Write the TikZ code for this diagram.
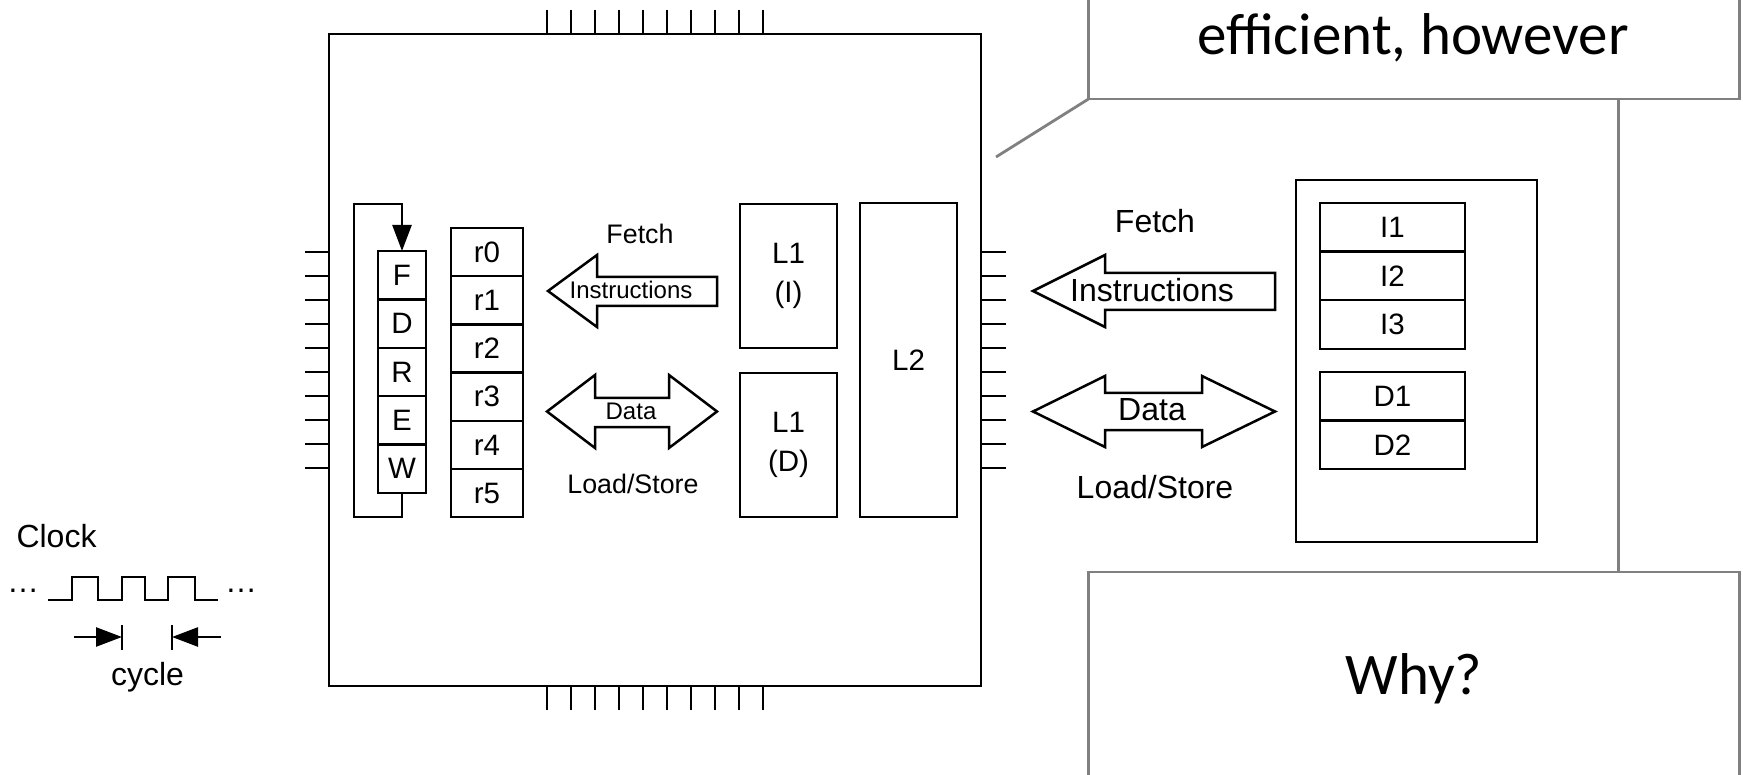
\documentclass[tikz,border=0pt]{standalone}
\usepackage{fontspec}
\setmainfont{Liberation Sans}
\newfontfamily\slidefont{Carlito}
\usetikzlibrary{arrows.meta,positioning}
\definecolor{slidegray}{RGB}{128,128,128}

\tikzset{
  box/.style={draw,line width=2.5pt,inner sep=0pt,outer sep=0pt,font=\fontsize{29.5}{39}\selectfont},
  stage/.style={box,minimum width=48pt,minimum height=48.4pt},
  reg/.style={box,minimum width=72pt,minimum height=48.2pt},
  word/.style={box,minimum width=145pt,minimum height=48.6pt},
  pin/.style={line width=2.2pt},
  bigarrow/.style={draw,line width=2.5pt,line join=miter},
  lbl/.style={font=\fontsize{26.8}{28}\selectfont},
  arrowtext/.style={font=\fontsize{24}{26}\selectfont},
  rlbl/.style={font=\fontsize{32}{34}\selectfont},
  clk/.style={font=\fontsize{32}{34}\selectfont},
  flowarrow/.style={line width=2.5pt,-{Triangle[length=26pt,width=19pt]}},
  callout/.style={draw=slidegray,line width=2.8pt,inner sep=0pt,outer sep=0pt},
  callline/.style={draw=slidegray,line width=2.8pt},
  slidetext/.style={font=\slidefont\fontsize{59}{60}\selectfont}
}

\begin{document}
\begin{tikzpicture}[x=1pt,y=-1pt]
\clip (0,0) rectangle (1743,775);

% chip with its pins
\foreach \i in {0,...,9} {
  \draw[pin] (547+24*\i,10) -- (547+24*\i,34);
  \draw[pin] (547+24*\i,686) -- (547+24*\i,710);
  \draw[pin] (305,252+24*\i) -- (329,252+24*\i);
  \draw[pin] (981,252+24*\i) -- (1006,252+24*\i);
}
\node[box,minimum width=652pt,minimum height=652pt,anchor=north west] (chip) at (329,34) {};

% pipeline stages
\node[stage,anchor=north west] (F) at (378,251) {F};
\node[stage,below=0pt of F] (D) {D};
\node[stage,below=0pt of D] (R) {R};
\node[stage,below=0pt of R] (E) {E};
\node[stage,below=0pt of E] (W) {W};
\draw[flowarrow] (W.south) -- ++(0,24) -| ++(-48,-313) -| (F.north);

% registers
\node[reg,anchor=north west] (r0) at (451,228) {r0};
\node[reg,below=0pt of r0] (r1) {r1};
\node[reg,below=0pt of r1] (r2) {r2};
\node[reg,below=0pt of r2] (r3) {r3};
\node[reg,below=0pt of r3] (r4) {r4};
\node[reg,below=0pt of r4] (r5) {r5};

% caches
\node[box,minimum width=97pt,minimum height=144pt,anchor=north west,align=center] (l1i) at (740,204) {L1\\(I)};
\node[box,minimum width=97pt,minimum height=144pt,anchor=north west,align=center] (l1d) at (740,373) {L1\\(D)};
\node[box,minimum width=97pt,minimum height=314pt,anchor=north west] (l2) at (860,203) {L2};

% memory
\node[box,minimum width=241pt,minimum height=362pt,anchor=north west] (mem) at (1296,180) {};
\node[word,anchor=north west] (i1) at (1320,203) {I1};
\node[word,below=0pt of i1] (i2) {I2};
\node[word,below=0pt of i2] (i3) {I3};
\node[word,minimum height=48.5pt,anchor=north west] (d1) at (1320,372) {D1};
\node[word,minimum height=48.5pt,below=0pt of d1] (d2) {D2};

% traffic inside the chip
\draw[bigarrow] (548,291) -- (597,255) -- (597,277) -- (717,277) -- (717,306) -- (597,306) -- (597,327) -- cycle;
\draw[bigarrow] (547,411.5) -- (595,375) -- (595,398) -- (669,398) -- (669,375) -- (717,411.5) -- (669,448) -- (669,427) -- (595,427) -- (595,448) -- cycle;
\node[lbl] (fetchin) at (640,234) {Fetch};
\node[arrowtext] (instrin) at (631,290) {Instructions};
\node[arrowtext] (datain) at (631,411) {Data};
\node[lbl] (lsin) at (633,484) {Load/Store};

% traffic to memory
\draw[bigarrow] (1033,291) -- (1105,255) -- (1105,273) -- (1275,273) -- (1275,310) -- (1105,310) -- (1105,327) -- cycle;
\draw[bigarrow] (1033,411.5) -- (1105,376) -- (1105,393) -- (1202,393) -- (1202,376) -- (1275,411.5) -- (1202,447) -- (1202,430) -- (1105,430) -- (1105,447) -- cycle;
\node[rlbl] (fetchout) at (1155,221) {Fetch};
\node[rlbl] (instrout) at (1152,290) {Instructions};
\node[rlbl] (dataout) at (1152,410) {Data};
\node[rlbl] (lsout) at (1155,487) {Load/Store};

% clock
\node[clk,anchor=base west] (clock) at (13,547) {Clock};
\node[clk,anchor=base] (dotsl) at (23,592) {\textellipsis};
\node[clk,anchor=base] (dotsr) at (241,592) {\textellipsis};
\draw[line width=2.5pt] (48,600) -- (72,600) -- (72,577) -- (98,577) -- (98,600) -- (122,600) -- (122,577) -- (145,577) -- (145,600) -- (168,600) -- (168,577) -- (195,577) -- (195,600) -- (218,600);
\coordinate (tickl) at (122,637);
\coordinate (tickr) at (172,637);
\draw[line width=2.5pt] (122,625) -- (122,650);
\draw[line width=2.5pt] (172,625) -- (172,650);
\draw[flowarrow] (74,637) -- (tickl);
\draw[flowarrow] (221,637) -- (tickr);
\node[clk,anchor=base] (cycle) at (147.5,685) {cycle};

% slide callouts
\node[callout,minimum width=651pt,minimum height=140pt,anchor=south west] (note) at (1088.5,99) {};
\node[slidetext,anchor=base] (notetext) at (1413,55) {efficient, however};
\node[callout,minimum width=651pt,minimum height=260pt,anchor=north west] (why) at (1088.5,572) {};
\node[slidetext,anchor=base] (whytext) at (1414,694) {Why?};
\coordinate (tap) at (1618.5,99);
\draw[callline] (tap) -- (tap |- why.north);
\coordinate (pointer) at (996,157);
\draw[callline] (note.south west) -- (pointer);
\end{tikzpicture}
\end{document}
